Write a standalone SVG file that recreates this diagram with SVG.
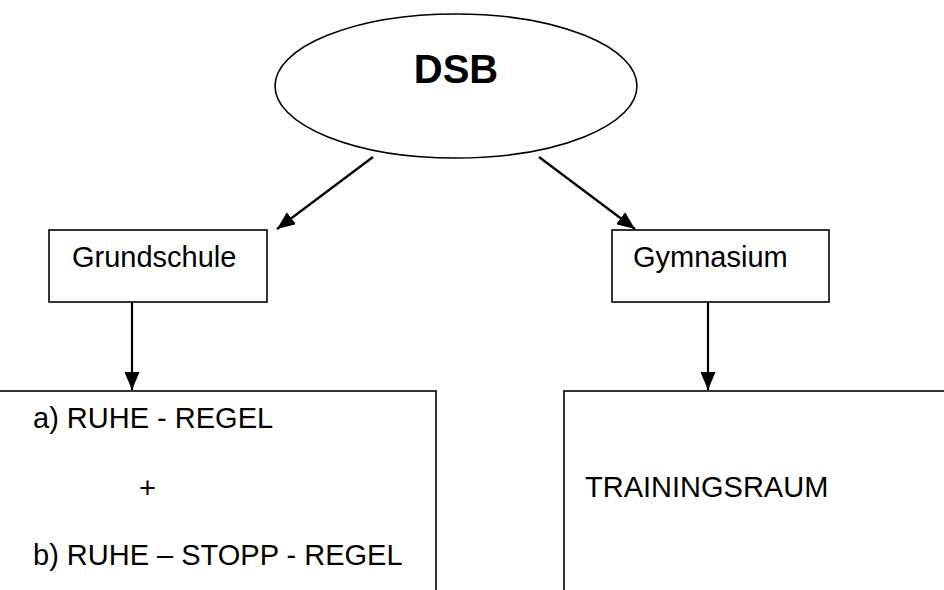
<svg xmlns="http://www.w3.org/2000/svg" width="944" height="590" viewBox="0 0 944 590">
  <style>
    .shape { fill: #ffffff; stroke: #000000; stroke-width: 1.6; }
    .label { font-family: "Liberation Sans", Arial, sans-serif; font-size: 29px; fill: #000000; }
    .title { font-family: "Liberation Sans", Arial, sans-serif; font-size: 40px; font-weight: bold; fill: #000000; }
    .link { stroke: #000000; stroke-width: 2.2; fill: none; marker-end: url(#head); }
  </style>
  <defs>
    <marker id="head" markerUnits="userSpaceOnUse" markerWidth="18" markerHeight="15" refX="18" refY="7.5" orient="auto">
      <path d="M0,0 L18,7.5 L0,15 Z" fill="#000000"/>
    </marker>
  </defs>
  <rect width="944" height="590" fill="#ffffff"/>

  <g id="dsb">
    <ellipse class="shape" cx="456" cy="86" rx="181" ry="72"/>
    <text class="title" x="456" y="83" text-anchor="middle">DSB</text>
  </g>

  <g id="grundschule">
    <rect class="shape" x="49" y="230" width="218" height="72"/>
    <text class="label" x="72" y="267">Grundschule</text>
  </g>

  <g id="gymnasium">
    <rect class="shape" x="612" y="230" width="217" height="72"/>
    <text class="label" x="633" y="267">Gymnasium</text>
  </g>

  <g id="regeln">
    <rect class="shape" x="-10" y="391" width="446" height="220"/>
    <text class="label" x="33" y="428">a) RUHE - REGEL</text>
    <text class="label" x="139" y="498">+</text>
    <text class="label" x="33" y="565">b) RUHE – STOPP - REGEL</text>
  </g>

  <g id="trainingsraum">
    <rect class="shape" x="564" y="391" width="400" height="220"/>
    <text class="label" x="585" y="497">TRAININGSRAUM</text>
  </g>

  <g id="connectors">
    <line class="link" x1="373" y1="157" x2="277" y2="229"/>
    <line class="link" x1="539" y1="157" x2="635" y2="229"/>
    <line class="link" x1="132" y1="302" x2="132" y2="390"/>
    <line class="link" x1="708" y1="302" x2="708" y2="390"/>
  </g>
</svg>
